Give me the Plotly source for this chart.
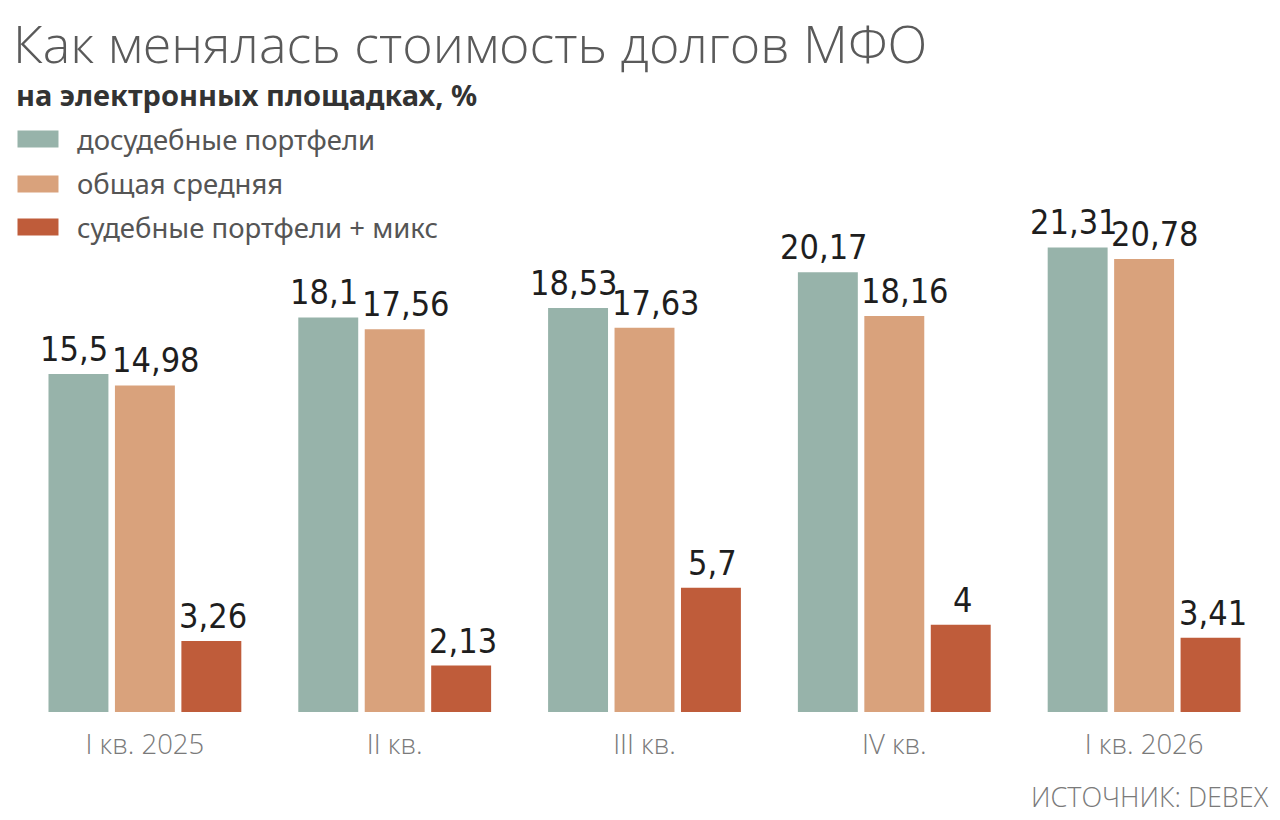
import plotly.graph_objects as go

categories = ["I кв. 2025", "II кв.", "III кв.", "IV кв.", "I кв. 2026"]
series_names = ["досудебные портфели", "общая средняя", "судебные портфели + микс"]
pretrial = [15.5, 18.1, 18.53, 20.17, 21.31]
average = [14.98, 17.56, 17.63, 18.16, 20.78]
judicial = [3.26, 2.13, 5.7, 4, 3.41]
colors = ["#97b3aa", "#d9a27c", "#bf5c3a"]

title = "Как менялась стоимость долгов МФО"
subtitle = "на электронных площадках, %"
source = "ИСТОЧНИК: DEBEX"

def fmt(v):
    return ("%g" % v).replace(".", ",")

LABEL_FONT = "DejaVu Sans Condensed, Liberation Sans Narrow, sans-serif"
THIN_FONT = "Open Sans, Noto Sans, sans-serif"

# layout geometry (figure pixels); the page body shifts the figure by 8px
OFF = 8
L, R, T, B = 11.5, 19, 159, 116
W = 1280 - L - R
H = 820 - T - B
BARGAP = 0.202
GROUPGAP = 0.098
N_CAT = len(categories)
SLOT = W / N_CAT * (1 - BARGAP) / 3          # width of one bar slot in px
LABEL_NUDGE = [-4, 11, 2]                    # small horizontal nudge of value labels per series

def px(sx):
    return (sx - OFF - L) / W

def py(sy):
    return 1 - (sy - OFF - T) / H

fig = go.Figure()
all_series = [pretrial, average, judicial]
for name, vals, col in zip(series_names, all_series, colors):
    fig.add_trace(go.Bar(
        x=categories, y=vals, name=name,
        marker=dict(color=col, line=dict(width=0)),
        cliponaxis=False, showlegend=False,
    ))

# value labels, anchored to each bar's value and category
for si, vals in enumerate(all_series):
    for cat, v in zip(categories, vals):
        fig.add_annotation(
            x=cat, y=v, xref="x", yref="y", text=fmt(v), showarrow=False,
            xanchor="center", yanchor="bottom",
            xshift=(si - 1) * SLOT + LABEL_NUDGE[si], yshift=3,
            font=dict(family=LABEL_FONT, size=34, color="#1e1e1e"),
        )

fig.update_layout(
    width=1280, height=820,
    paper_bgcolor="white", plot_bgcolor="white",
    barmode="group", bargap=BARGAP, bargroupgap=GROUPGAP,
    margin=dict(l=L, r=R, t=T, b=B, autoexpand=False),
    xaxis=dict(showgrid=False, showline=False, zeroline=False, ticks="",
               tickfont=dict(family=THIN_FONT, size=27.5, color="#7a7a7a", weight=300),
               ticklabelstandoff=13, automargin=False,
               range=[-0.5, 4.5]),
    yaxis=dict(visible=False, range=[0, 25]),
    showlegend=False,
)

fig.add_annotation(xref="paper", yref="paper", x=px(10), y=py(42), xanchor="left", yanchor="middle",
                   text=title, showarrow=False,
                   font=dict(family=THIN_FONT, size=52, color="#5a5a5a", weight=300))
fig.add_annotation(xref="paper", yref="paper", x=px(13), y=py(94.5), xanchor="left", yanchor="middle",
                   text=subtitle, showarrow=False,
                   font=dict(family="Noto Sans, sans-serif", size=29, color="#333333", weight="bold"))

# custom legend
leg_center = [139, 184, 227]
for yc, name, col in zip(leg_center, series_names, colors):
    fig.add_shape(type="rect", xref="paper", yref="paper",
                  x0=px(17), x1=px(58), y0=py(yc + 8.5), y1=py(yc - 8.5),
                  fillcolor=col, line=dict(width=0))
    fig.add_annotation(xref="paper", yref="paper", x=px(75), y=py(yc),
                       xanchor="left", yanchor="middle", showarrow=False, text=name,
                       font=dict(family="Noto Sans, sans-serif", size=27.5, color="#555555"))

fig.add_annotation(xref="paper", yref="paper", x=px(1271), y=py(796), xanchor="right", yanchor="middle",
                   text=source, showarrow=False,
                   font=dict(family=THIN_FONT, size=27, color="#7a7a7a", weight=300))

fig.write_html("out.html")
